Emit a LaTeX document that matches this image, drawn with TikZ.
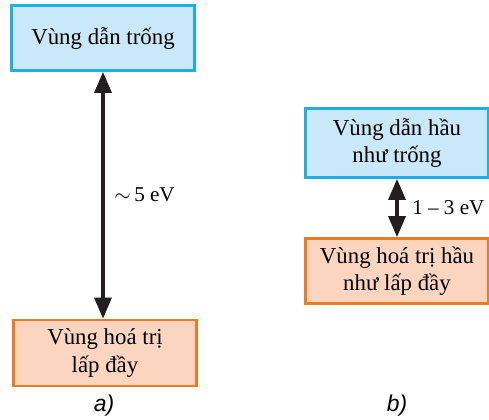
\documentclass[tikz,border=0pt]{standalone}
\usepackage{fontspec}
\setmainfont{Liberation Serif}
\newfontfamily\capfont{Liberation Sans}
\usepackage{xcolor}
\usetikzlibrary{arrows.meta,positioning}
\definecolor{cbandfill}{HTML}{C9E9F8}
\definecolor{cbanddraw}{HTML}{1EAEE8}
\definecolor{vbandfill}{HTML}{FBD5BF}
\definecolor{vbanddraw}{HTML}{F07A22}
\definecolor{arrowdark}{HTML}{231F20}

\begin{document}
\begin{tikzpicture}[
    x=0.02cm, y=-0.02cm,
    >={Triangle[width=0.34cm,length=0.42cm]},
    cband/.style={rectangle, draw=cbanddraw, fill=cbandfill, line width=1.6pt, align=center, font=\fontsize{13}{15.5}\selectfont, minimum width=3.66cm},
    vband/.style={rectangle, draw=vbanddraw, fill=vbandfill, line width=1.6pt, align=center, font=\fontsize{13}{15.5}\selectfont, minimum width=3.66cm},
    gap/.style={<->, line width=1.9pt, arrowdark},
    gaplabel/.style={font=\fontsize{12}{14}\selectfont, inner sep=0pt},
    caption/.style={font=\capfont\itshape\fontsize{13}{15}\selectfont},
]
\useasboundingbox (0,0) rectangle (489,419);

% a)
\node[cband, minimum height=1.3cm] (topa) at (103,38) {Vùng dẫn trống};
\node[vband, minimum height=1.32cm] (bota) at (105,353) {Vùng hoá trị\\lấp đầy};
\node[caption] (capa) at (104,406) {a)};

% b)
\node[cband, minimum height=1.38cm] (topb) at (397,143) {Vùng dẫn hầu\\như trống};
\node[vband, minimum height=1.3cm] (botb) at (397,271) {Vùng hoá trị hầu\\như lấp đầy};
\node[caption] (capb) at (397,406) {b)};

% Arrows
\draw[gap] (topa.south -| 103,0) -- (bota.north -| 103,0) coordinate[midway] (mida);
\node[gaplabel, right=0.22cm of mida] (gapa) {$\sim$\,5 eV};
\draw[gap] (topb.south) -- (botb.north) coordinate[midway] (midb);
\node[gaplabel, right=0.3cm of midb] (gapb) {1 -- 3 eV};

\end{tikzpicture}
\end{document}
